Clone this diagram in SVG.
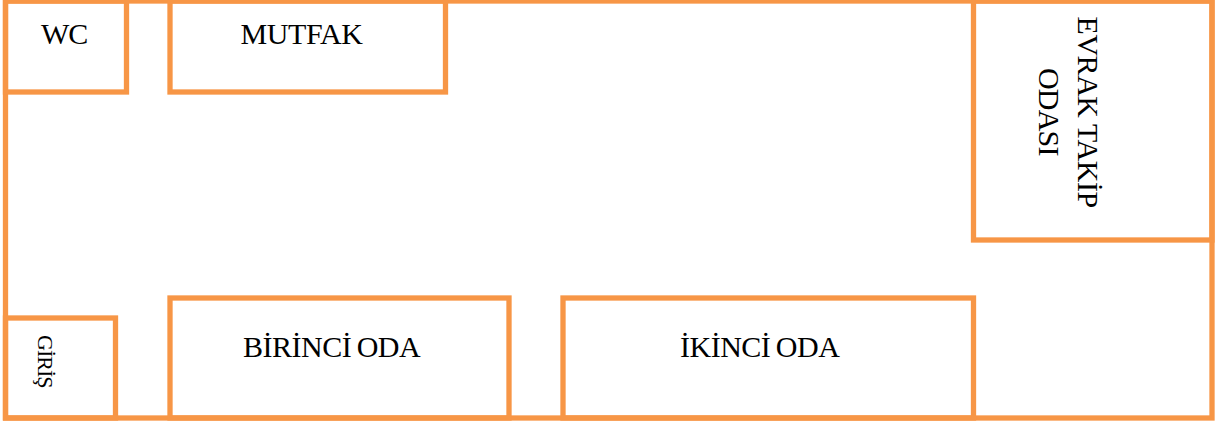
<svg xmlns="http://www.w3.org/2000/svg" width="1219" height="423" viewBox="0 0 1219 423">
<style>
.w{fill:none;stroke:#f79646;stroke-width:5.3;stroke-linejoin:miter}
text{font-family:"Liberation Serif","Times New Roman",serif;font-size:30px;fill:#000}
.n{letter-spacing:-.5px;word-spacing:-1.500px}
</style>
<rect width="1219" height="423" fill="#fff"/>
<g id="plan"><rect class="w" x="5.5" y="1" width="1206.5" height="417"/></g>
<g id="wc"><rect class="w" x="5.5" y="1" width="121" height="91"/><text x="41" y="44" style="letter-spacing:-1px">WC</text></g>
<g id="mutfak"><rect class="w" x="170" y="1" width="275.500" height="91"/><text x="240.500" y="44" style="letter-spacing:-.4px">MUTFAK</text></g>
<g id="evrak"><rect class="w" x="973.500" y="1" width="238.500" height="239"/>
<text transform="translate(1078 16.500) rotate(90)" style="letter-spacing:-.45px">EVRAK TAKİP</text>
<text transform="translate(1039 68) rotate(90)" style="letter-spacing:-.8px">ODASI</text></g>
<g id="giris"><rect class="w" x="5.5" y="318" width="110" height="100"/><text transform="translate(38 335) rotate(90)" style="font-size:22px;letter-spacing:-1px">GİRİŞ</text></g>
<g id="birinci"><rect class="w" x="170" y="298" width="339" height="120"/><text class="n" x="243" y="357">BİRİNCİ ODA</text></g>
<g id="ikinci"><rect class="w" x="563" y="298" width="410.500" height="120"/><text class="n" x="680" y="357">İKİNCİ ODA</text></g>
</svg>
